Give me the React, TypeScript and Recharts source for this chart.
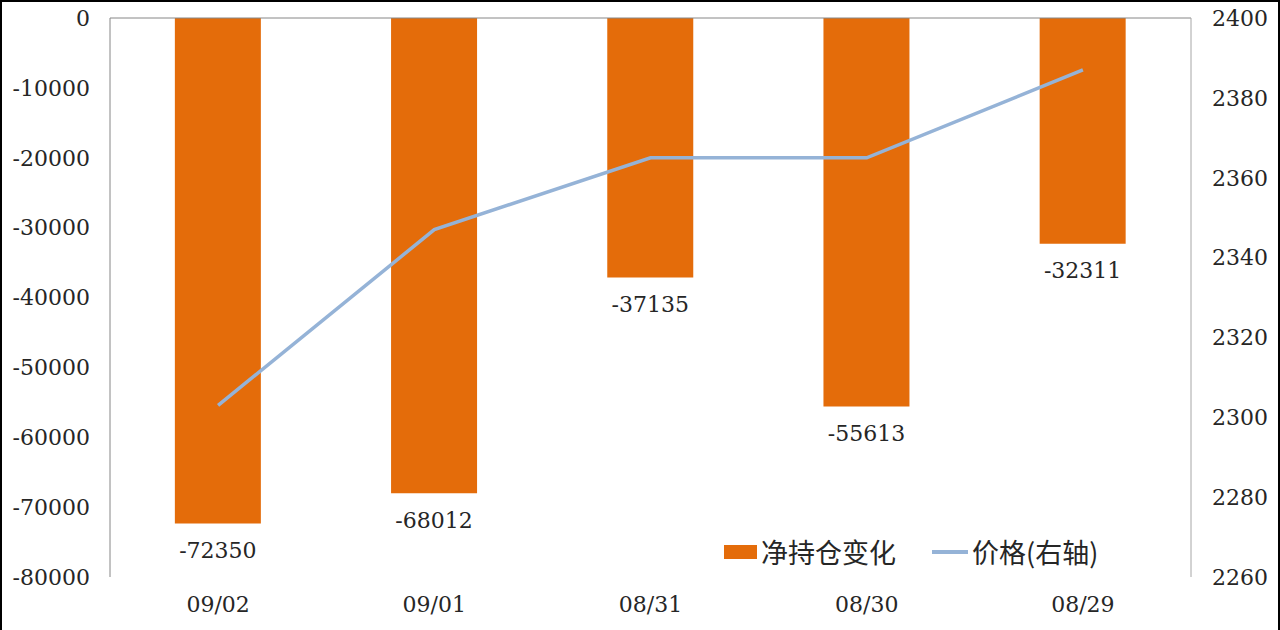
import React from "react";
import {
  ComposedChart,
  Bar,
  Line,
  XAxis,
  YAxis,
  ReferenceLine,
  LabelList,
  Legend,
} from "recharts";

const dates = ["09/02", "09/01", "08/31", "08/30", "08/29"];
const netChange = [-72350, -68012, -37135, -55613, -32311];
const price = [2303, 2347, 2365, 2365, 2387];
const leftTicks = [-80000, -70000, -60000, -50000, -40000, -30000, -20000, -10000, 0];
const rightTicks = [2260, 2280, 2300, 2320, 2340, 2360, 2380, 2400];

const chartData = dates.map((d, i) => ({
  name: d,
  net: netChange[i],
  price: price[i],
}));

const numFont = "'DejaVu Serif', 'Liberation Serif', serif";
const cjkFont = "'Noto Sans CJK SC', 'Noto Sans', sans-serif";
const textColor = "#262626";
const orange = "#E46C0A";
const blue = "#95B3D7";

// labels sit under the bar end (bars grow downward from 0)
const renderBarLabel = (props: any) => {
  const { x, y, width, height, value } = props;
  const bottom = Math.max(y, y + height);
  return (
    <text
      x={x + width / 2}
      y={bottom + 27}
      textAnchor="middle"
      dominantBaseline="central"
      fontFamily={numFont}
      fontSize={22}
      fill={textColor}
    >
      {value}
    </text>
  );
};

const CustomLegend = () => (
  <div
    style={{
      display: "flex",
      alignItems: "center",
      fontFamily: cjkFont,
      fontSize: 27,
      color: textColor,
      whiteSpace: "nowrap",
    }}
  >
    <span
      style={{ width: 33, height: 14, background: orange, marginRight: 4 }}
    />
    <span>净持仓变化</span>
    <span
      style={{
        width: 36,
        height: 4,
        background: blue,
        marginLeft: 36,
        marginRight: 4,
      }}
    />
    <span>价格(右轴)</span>
  </div>
);

export default function App() {
  const tickStyle = { fill: textColor, fontSize: 22, fontFamily: numFont };

  return (
    <div
      style={{
        position: "absolute",
        left: 0,
        top: 0,
        width: 1280,
        height: 630,
        background: "#fff",
        boxSizing: "border-box",
        borderTop: "2px solid #000",
        borderLeft: "2px solid #000",
        borderRight: "2px solid #000",
      }}
    >
      <div style={{ position: "absolute", left: -2, top: -2 }}>
        <ComposedChart
          width={1280}
          height={630}
          data={chartData}
          margin={{ top: 18, right: 0, left: 0, bottom: 0 }}
          barCategoryGap="30%"
        >
          <XAxis
            dataKey="name"
            xAxisId="x"
            height={53}
            axisLine={false}
            tickLine={false}
            tickSize={0}
            tickMargin={19}
            tick={tickStyle}
          />
          <YAxis
            yAxisId="left"
            orientation="left"
            width={110}
            domain={[-80000, 0]}
            ticks={leftTicks}
            interval={0}
            axisLine={{ stroke: "#868686" }}
            tickLine={false}
            tickSize={0}
            tickMargin={20}
            tick={tickStyle}
          />
          <YAxis
            yAxisId="right"
            orientation="right"
            width={89}
            domain={[2260, 2400]}
            ticks={rightTicks}
            interval={0}
            axisLine={{ stroke: "#A6A6A6" }}
            tickLine={false}
            tickSize={0}
            tickMargin={21}
            tick={tickStyle}
          />

          {/* category axis crosses at 0, i.e. along the top */}
          <ReferenceLine
            y={0}
            yAxisId="left"
            xAxisId="x"
            stroke="#868686"
            ifOverflow="extendDomain"
          />

          <Legend
            layout="vertical"
            align="center"
            verticalAlign="middle"
            content={<CustomLegend />}
            wrapperStyle={{ left: 724, top: 532, width: "auto" }}
          />

          <Bar
            dataKey="net"
            xAxisId="x"
            yAxisId="left"
            fill={orange}
            name="净持仓变化"
            isAnimationActive={false}
          >
            <LabelList dataKey="net" content={renderBarLabel} />
          </Bar>

          <Line
            type="linear"
            dataKey="price"
            xAxisId="x"
            yAxisId="right"
            stroke={blue}
            strokeWidth={3.5}
            dot={false}
            activeDot={false}
            name="价格(右轴)"
            isAnimationActive={false}
          />
        </ComposedChart>
      </div>
    </div>
  );
}
